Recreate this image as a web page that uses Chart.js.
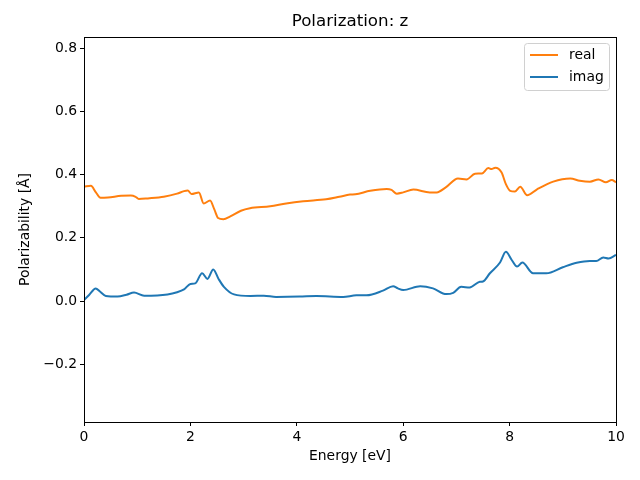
<!DOCTYPE html>
<html>
<head>
<meta charset="utf-8">
<script src="https://cdn.jsdelivr.net/npm/chart.js@4/dist/chart.umd.min.js"></script>
<style>
  html, body { margin: 0; padding: 0; background: #fff; }
  #wrap { width: 640px; height: 480px; }
</style>
</head>
<body>
<div id="wrap"><canvas id="polChart" width="640" height="480"></canvas></div>
<script>
// data
const realEnergy = [0, 0.13, 0.22, 0.31, 0.45, 0.7, 0.88, 0.97, 1.03, 1.2, 1.5, 1.75, 1.88, 1.95, 2.02, 2.16, 2.25, 2.37, 2.45, 2.52, 2.62, 2.75, 2.95, 3.12, 3.5, 3.8, 4.12, 4.55, 4.8, 5.0, 5.1, 5.38, 5.69, 5.78, 5.88, 6.0, 6.19, 6.5, 6.63, 6.8, 7.03, 7.19, 7.35, 7.48, 7.6, 7.66, 7.73, 7.85, 7.93, 8.01, 8.1, 8.2, 8.33, 8.51, 8.82, 9.14, 9.32, 9.51, 9.67, 9.81, 9.92, 10];
const realValues = [0.362, 0.365, 0.345, 0.327, 0.328, 0.333, 0.334, 0.330, 0.323, 0.325, 0.330, 0.340, 0.348, 0.350, 0.339, 0.344, 0.309, 0.318, 0.290, 0.263, 0.259, 0.268, 0.286, 0.294, 0.300, 0.309, 0.316, 0.322, 0.330, 0.337, 0.338, 0.349, 0.355, 0.352, 0.340, 0.344, 0.353, 0.344, 0.344, 0.360, 0.388, 0.385, 0.403, 0.404, 0.421, 0.418, 0.422, 0.407, 0.370, 0.349, 0.347, 0.362, 0.335, 0.353, 0.378, 0.388, 0.381, 0.378, 0.385, 0.376, 0.383, 0.376];

const imagEnergy = [0, 0.1, 0.22, 0.3, 0.41, 0.63, 0.8, 0.94, 1.13, 1.57, 1.75, 1.88, 2.0, 2.09, 2.22, 2.32, 2.43, 2.53, 2.63, 2.82, 3.13, 3.38, 3.61, 4.05, 4.37, 4.87, 5.12, 5.31, 5.62, 5.81, 5.9, 6.0, 6.32, 6.56, 6.81, 6.94, 7.09, 7.25, 7.44, 7.5, 7.63, 7.82, 7.93, 8.04, 8.14, 8.24, 8.44, 8.69, 9.0, 9.26, 9.51, 9.63, 9.76, 9.86, 10];
const imagValues = [0.003, 0.020, 0.040, 0.030, 0.016, 0.014, 0.020, 0.027, 0.017, 0.021, 0.028, 0.037, 0.054, 0.056, 0.088, 0.070, 0.100, 0.070, 0.045, 0.021, 0.016, 0.017, 0.013, 0.014, 0.016, 0.013, 0.018, 0.018, 0.033, 0.047, 0.040, 0.035, 0.047, 0.040, 0.022, 0.026, 0.045, 0.043, 0.061, 0.062, 0.088, 0.122, 0.156, 0.130, 0.109, 0.122, 0.088, 0.088, 0.107, 0.121, 0.127, 0.127, 0.138, 0.135, 0.146];

const xTicks = [0, 2, 4, 6, 8, 10];
const yTicks = [-0.2, 0.0, 0.2, 0.4, 0.6, 0.8];

const FONT = "'DejaVu Sans', sans-serif";
const ORANGE = "#ff7f0e";
const BLUE = "#1f77b4";

function toPoints(xs, ys) {
  return xs.map((x, i) => ({ x: x, y: ys[i] }));
}

// box around the plot, title and legend drawn like matplotlib
const frame = {
  id: "frame",
  afterDraw(chart) {
    const { ctx, chartArea: a } = chart;
    ctx.save();
    ctx.strokeStyle = "#000";
    ctx.lineWidth = 1;
    ctx.strokeRect(Math.round(a.left) + 0.5, Math.round(a.top) + 0.5,
      Math.round(a.right - a.left), Math.round(a.bottom - a.top));

    ctx.fillStyle = "#000";
    ctx.font = "16.7px " + FONT;
    ctx.textAlign = "center";
    ctx.textBaseline = "middle";
    ctx.fillText("Polarization: z", (a.left + a.right) / 2, 22);

    // legend
    const bx = a.right - 92, by = a.top + 6, bw = 85, bh = 47;
    ctx.beginPath();
    ctx.roundRect(bx + 0.5, by + 0.5, bw, bh, 3);
    ctx.fillStyle = "rgba(255,255,255,0.8)";
    ctx.fill();
    ctx.strokeStyle = "#d0d0d0";
    ctx.stroke();
    chart.data.datasets.forEach((ds, i) => {
      const y = by + 12 + i * 22;
      ctx.beginPath();
      ctx.strokeStyle = ds.borderColor;
      ctx.lineWidth = 2;
      ctx.moveTo(bx + 6, y);
      ctx.lineTo(bx + 34, y);
      ctx.stroke();
      ctx.fillStyle = "#000";
      ctx.font = "13.9px " + FONT;
      ctx.textAlign = "left";
      ctx.fillText(ds.label, bx + 45, y);
    });
    ctx.restore();
  }
};

const ctx = document.getElementById("polChart").getContext("2d");

new Chart(ctx, {
  type: "line",
  data: {
    datasets: [
      {
        label: "real",
        data: toPoints(realEnergy, realValues),
        borderColor: ORANGE,
        borderWidth: 2,
        pointRadius: 0,
        cubicInterpolationMode: "monotone",
      },
      {
        label: "imag",
        data: toPoints(imagEnergy, imagValues),
        borderColor: BLUE,
        borderWidth: 2,
        pointRadius: 0,
        cubicInterpolationMode: "monotone",
      },
    ],
  },
  options: {
    responsive: false,
    animation: false,
    layout: { padding: { top: 37, right: 24, left: 0, bottom: 0 } },
    plugins: {
      legend: { display: false },
      tooltip: { enabled: false },
    },
    scales: {
      x: {
        type: "linear",
        min: 0,
        max: 10,
        afterFit: (s) => { s.height = 58; },
        afterBuildTicks: (s) => { s.ticks = xTicks.map((v) => ({ value: v })); },
        grid: { drawOnChartArea: false, tickLength: 4, color: "#000" },
        border: { color: "#000" },
        ticks: { color: "#000", padding: 3, maxRotation: 0, font: { family: FONT, size: 13.9 }, callback: (v) => String(v) },
        title: { display: true, text: "Energy [eV]", color: "#000", padding: { top: 4, bottom: 15 }, font: { family: FONT, size: 13.9 } },
      },
      y: {
        type: "linear",
        min: -0.383,
        max: 0.836,
        afterFit: (s) => { s.width = 84; },
        afterBuildTicks: (s) => { s.ticks = yTicks.map((v) => ({ value: v })); },
        grid: { drawOnChartArea: false, tickLength: 4, color: "#000" },
        border: { color: "#000" },
        ticks: {
          color: "#000",
          padding: 3,
          font: { family: FONT, size: 13.9 },
          callback: (v) => v.toFixed(1).replace("-", "\u2212"),
        },
        title: { display: true, text: "Polarizability [Å]", color: "#000", padding: { top: 17, bottom: 4 }, font: { family: FONT, size: 13.9 } },
      },
    },
  },
  plugins: [frame],
});
</script>
</body>
</html>
